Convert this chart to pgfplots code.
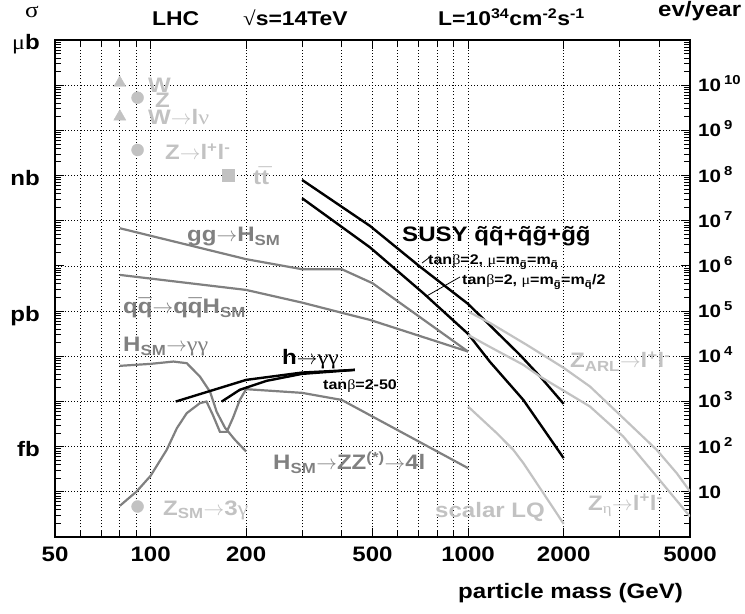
\documentclass[border=0pt]{standalone}
\usepackage{fontspec}
\setmainfont{Liberation Sans}[UprightFont=* Bold, FakeStretch=1.15]
\newfontfamily\symf{Liberation Serif}[FakeStretch=1.15]
\usepackage{pgfplots}
\pgfplotsset{compat=1.18}

\definecolor{dgray}{gray}{0.5}
\definecolor{lgray}{gray}{0.76}
\newcommand{\ar}{\ensuremath{\rightarrow}}
\newcommand{\gr}[1]{{\symf #1}}
\newcommand{\sub}[1]{\textsubscript{#1}}
\newcommand{\tsup}[1]{\textsuperscript{#1}}
\newcommand{\acc}[2]{{\ooalign{#2\cr\hidewidth#1\hidewidth\cr}}}
\newcommand{\qb}{\acc{¯}{q}}
\newcommand{\tb}{\acc{\raisebox{0.12em}{¯}}{t}}
\newcommand{\sq}{\acc{˜}{q}}
\newcommand{\sg}{\acc{˜}{g}}
\newcommand{\ex}[1]{\hspace{3bp}\raisebox{7bp}{\fontsize{13}{13}\selectfont #1}}
\newcommand{\fs}[1]{\fontsize{#1}{#1}\selectfont}

\begin{document}
\begin{tikzpicture}
% left labels (cross sections)
\begin{axis}[
  at={(0,0)}, anchor=south west,
  scale only axis, width=635bp, height=497bp,
  xmode=log, ymode=log, xmin=50, xmax=5000, ymin=1, ymax=1e11,
  axis line style={draw=none}, xtick=\empty,
  ytick={1e2,1e5,1e8,1e11},
  yticklabels={fb,pb,nb,\gr{μ}b},
  ytick pos=left, major tick length=0pt,
  yticklabel style={font=\fs{21}, anchor=base east, inner sep=0pt, xshift=-15bp, yshift=-10bp},
]
\end{axis}
% main axis
\begin{axis}[
  at={(0,0)}, anchor=south west,
  scale only axis, width=635bp, height=497bp,
  xmode=log, ymode=log, xmin=50, xmax=5000, ymin=1, ymax=1e11,
  axis line style={line width=1.3bp},
  xtick={50,100,200,500,1000,2000,5000},
  xticklabels={50,100,200,500,1000,2000,5000},
  minor xtick={60,70,80,90,300,400,600,700,800,900,3000,4000},
  ytickten={0,...,11},
  yticklabels={,10,10\ex{2},10\ex{3},10\ex{4},10\ex{5},10\ex{6},10\ex{7},10\ex{8},10\ex{9},10\ex{10},},
  yticklabel pos=right, tick pos=both, tick align=inside,
  major tick length=9bp, minor tick length=6bp,
  every tick/.style={black, line width=0.9bp},
  xmajorgrids, xminorgrids, ymajorgrids,
  grid style={black, line width=0.8bp, dash pattern=on 1bp off 2.2bp},
  minor grid style={black, line width=0.8bp, dash pattern=on 1bp off 2.2bp},
  xticklabel style={font=\fs{21}, anchor=north, inner sep=0pt, yshift=-10bp},
  yticklabel style={font=\fs{18}, anchor=base west, inner sep=0pt, xshift=8bp, yshift=-6.5bp},
]
% SUSY squark/gluino production
\addplot[black, line width=2.4bp] coordinates {
  (300,8.0e7) (491,7.67e6) (705,9.66e5) (1000,1.44e5) (1457,1.07e4) (1686,3.56e3) (2000,885)};
\addplot[black, line width=2.4bp] coordinates {
  (300,3.15e7) (491,2.57e6) (723,2.49e5) (1000,3.13e4) (1172,7.52e3) (1493,1.08e3) (2000,55.7)};
% SM Higgs
\addplot[dgray, line width=2.2bp] coordinates {
  (80,6.82e6) (200,1.41e6) (300,8.45e5) (400,8.45e5) (500,4.14e5) (1000,1.27e4)};
\addplot[dgray, line width=2.2bp] coordinates {
  (80,6.32e5) (200,2.94e5) (300,1.54e5) (425,8.24e4) (491,6.38e4) (1000,1.27e4)};
\addplot[dgray, line width=2.2bp] coordinates {
  (80,6.14e3) (100,6.79e3) (118,7.64e3) (130,7.03e3) (143,3.56e3) (154,1.63e3)
  (161.5,589) (171.6,261) (184.5,141) (200,78)};
\addplot[dgray, line width=2.2bp] coordinates {
  (80,4.9) (90.4,10.2) (100,22.6) (112.4,84.9) (121,256) (130,551) (143,916) (150,995)
  (157,506) (165.4,212) (173.7,212) (181.8,434) (191,1080) (200,1870) (300,1550)
  (400,1080) (1000,33.4)};
% MSSM h -> gamma gamma
\addplot[black, line width=2.4bp] coordinates {
  (120,995) (200,3.0e3) (300,4.36e3) (440,5.0e3)};
\addplot[black, line width=2.4bp] coordinates {
  (167.5,995) (191,1.81e3) (232,2.86e3) (300,4.08e3) (375,4.59e3) (440,5.0e3)};
% Z', leptoquarks
\addplot[lgray, line width=2.2bp] coordinates {
  (1000,9.75e4) (1172,5.48e4) (1530,1.79e4) (2000,5.54e3) (2421,2.14e3) (3083,428)
  (3927,85) (4540,25.9) (5000,10.2)};
\addplot[lgray, line width=2.2bp] coordinates {
  (1000,2.97e4) (1172,1.61e4) (1493,6.46e3) (1686,3.56e3) (2421,771) (3083,167)
  (3927,21.8) (5000,2.84)};
\addplot[lgray, line width=2.2bp] coordinates {
  (1000,771) (1231,199) (1388,85) (1493,43.2) (1726,9.35) (2000,1.96)};
% single points
\addplot[lgray, only marks, mark=triangle*, mark size=7bp] coordinates {(80,1.12e10) (80,2.01e9)};
\addplot[lgray, only marks, mark=*, mark size=6bp] coordinates {(91,5.29e9) (91,3.68e8) (91,4.73)};
\addplot[lgray, only marks, mark=square*, mark size=6bp] coordinates {(175,9.95e7)};
\end{axis}

% titles
\node[anchor=base west, inner sep=0, font=\fs{20}] at (97bp,511bp) {LHC};
\node[anchor=base west, inner sep=0, font=\fs{20}] at (188bp,511bp) {\gr{√}s=14TeV};
\node[anchor=base west, inner sep=0, font=\fs{20}] at (383bp,511bp) {L=10\tsup{34}cm\tsup{-2}s\tsup{-1}};
\node[anchor=base west, inner sep=0, font=\fs{21}] at (603bp,520bp) {ev/year};
\node[anchor=base west, inner sep=0, font=\fs{22}] at (-30bp,519bp) {\gr{σ}};
\node[anchor=base west, inner sep=0, font=\fs{21}] at (403bp,-61bp) {particle mass (GeV)};

% curve labels
\begin{scope}[every node/.style={anchor=base west, inner sep=0, font=\fs{21}}]
\node[lgray] at (93bp,444bp) {W};
\node[lgray] at (100bp,429bp) {Z};
\node[lgray] at (93bp,412bp) {W\ar l\gr{ν}};
\node[lgray] at (110bp,377bp) {Z\ar l\tsup{+}l\tsup{-}};
\node[lgray] at (198bp,352bp) {t\tb};
\node[dgray] at (132bp,295bp) {gg\ar H\sub{SM}};
\node[dgray] at (68bp,223bp) {q\qb\ar q\qb H\sub{SM}};
\node[dgray] at (68bp,185bp) {H\sub{SM}\ar\gr{γγ}};
\node[black] at (227bp,172bp) {h\ar\gr{γγ}};
\node[dgray] at (218bp,67bp) {H\sub{SM}\ar ZZ\tsup{(*)}\ar 4l};
\node[lgray] at (108bp,22bp) {Z\sub{SM}\ar 3\gr{γ}};
\node[lgray] at (380bp,20bp) {scalar LQ};
\node[lgray] at (533bp,27bp) {Z\sub{\gr{η}}\ar l\tsup{+}l\tsup{-}};
\node[lgray] at (515bp,169bp) {Z\sub{ARL}\ar l\tsup{+}l\tsup{-}};
\node[black] at (347bp,295bp) {SUSY \sq\sq+\sq\sg+\sg\sg};
\end{scope}
\begin{scope}[every node/.style={anchor=base west, inner sep=0, font=\fs{14}}]
\node at (268bp,147bp) {tan\gr{β}=2-50};
\node at (373bp,272bp) {tan\gr{β}=2, \gr{μ}=m\sub{\sg}=m\sub{\sq}};
\node at (407bp,252bp) {tan\gr{β}=2, \gr{μ}=m\sub{\sg}=m\sub{\sq}/2};
\end{scope}
\draw[black, line width=0.8bp] (367bp,274bp) -- (375bp,280bp);
\draw[black, line width=0.8bp] (371.7bp,241bp) -- (405bp,260bp);

\pgfresetboundingbox
\useasboundingbox (-55bp,-77bp) rectangle (690bp,537bp);
\end{tikzpicture}
\end{document}
